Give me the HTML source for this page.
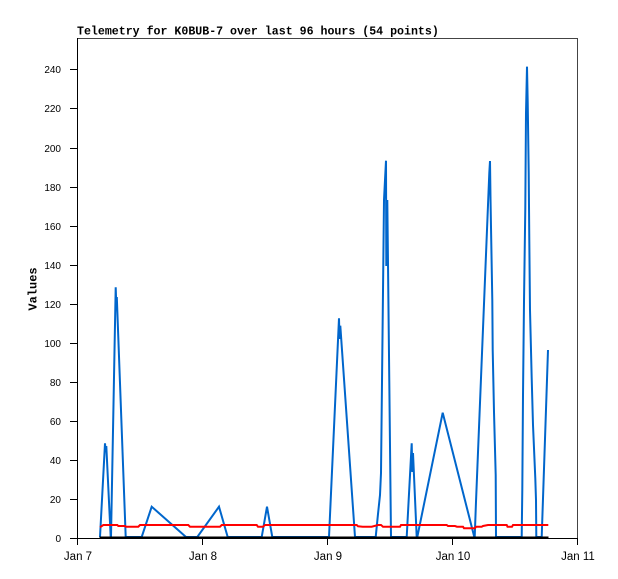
<!DOCTYPE html>
<html><head><meta charset="utf-8"><style>
html,body{margin:0;padding:0;background:#fff;}
svg{display:block;}
text{fill:#000;}
.t{font-family:"Liberation Sans",sans-serif;font-size:10px;}
.x{font-family:"Liberation Sans",sans-serif;font-size:11.5px;}
</style></head><body>
<svg width="618" height="579" viewBox="0 0 618 579" xmlns="http://www.w3.org/2000/svg">
<rect x="0" y="0" width="618" height="579" fill="#fff"/>
<text x="77" y="34.5" font-family="Liberation Mono, monospace" font-weight="bold" font-size="11.6px">Telemetry for K0BUB-7 over last 96 hours (54 points)</text>
<!-- frame -->
<line x1="77" y1="38.5" x2="578" y2="38.5" stroke="#444" stroke-width="1"/>
<line x1="577.5" y1="38" x2="577.5" y2="538" stroke="#444" stroke-width="1"/>
<line x1="77.5" y1="38" x2="77.5" y2="545" stroke="#000" stroke-width="1"/>
<line x1="70" y1="538.5" x2="578" y2="538.5" stroke="#000" stroke-width="1"/>
<!-- ticks -->
<g stroke="#000" stroke-width="1">
<line x1="70" x2="77" y1="499.5" y2="499.5"/>
<line x1="70" x2="77" y1="460.5" y2="460.5"/>
<line x1="70" x2="77" y1="421.5" y2="421.5"/>
<line x1="70" x2="77" y1="382.5" y2="382.5"/>
<line x1="70" x2="77" y1="343.5" y2="343.5"/>
<line x1="70" x2="77" y1="304.5" y2="304.5"/>
<line x1="70" x2="77" y1="265.5" y2="265.5"/>
<line x1="70" x2="77" y1="226.5" y2="226.5"/>
<line x1="70" x2="77" y1="187.5" y2="187.5"/>
<line x1="70" x2="77" y1="148.5" y2="148.5"/>
<line x1="70" x2="77" y1="108.5" y2="108.5"/>
<line x1="70" x2="77" y1="69.5" y2="69.5"/>
<line x1="202.5" x2="202.5" y1="538" y2="545"/>
<line x1="327.5" x2="327.5" y1="538" y2="545"/>
<line x1="452.5" x2="452.5" y1="538" y2="545"/>
<line x1="577.5" x2="577.5" y1="538" y2="545"/>
</g>
<g class="t" text-anchor="end">
<text x="61" y="542">0</text>
<text x="61" y="503">20</text>
<text x="61" y="464">40</text>
<text x="61" y="425">60</text>
<text x="61" y="386">80</text>
<text x="61" y="347">100</text>
<text x="61" y="308">120</text>
<text x="61" y="269">140</text>
<text x="61" y="230">160</text>
<text x="61" y="191">180</text>
<text x="61" y="152">200</text>
<text x="61" y="112">220</text>
<text x="61" y="73">240</text>
</g>
<g class="x" text-anchor="middle">
<text x="78" y="560">Jan 7</text>
<text x="203" y="560">Jan 8</text>
<text x="328" y="560">Jan 9</text>
<text x="453" y="560">Jan 10</text>
<text x="578" y="560">Jan 11</text>
</g>
<text transform="translate(36.5,289) rotate(-90)" text-anchor="middle" font-family="Liberation Mono, monospace" font-weight="bold" font-size="12px">Values</text>
<!-- blue series -->
<polyline fill="none" stroke="#0066cc" stroke-width="2" stroke-linejoin="miter" points="
100,537 105,443.3 105.7,452 106.3,446 110.7,537 111,537 115.7,287.3 116.3,305 116.8,297 125.7,537
141.7,537 151.7,506.7 186,537
197.3,537 219,506.7 227.7,537
261.7,537 267,506.7 272.3,537
329,537 339,318.3 339.5,339 340.3,325.7 355,537
375.7,537 378,514 380,495 381,473 384,200 385,180 386,160.7 386.3,266 387.3,200 391,537
406.7,537 411.7,443.3 412.3,472 413,453 416.7,537
417.3,537 442.7,412.7 474.3,537
474.7,537 476,501.7 488,205 489.3,173 490,161 490.5,198 491,227 492.3,300 492.7,350 494,412 495.7,475 496,537
521.7,537 522.3,490 523,395 524,301.7 525.3,208 526,113 527,66.7 527.7,101.7 528.7,171.7 529.3,240 530,310 531.7,378.3 533,425 535.3,478.3 536,500 536.3,537
541.7,537 548,350"/>
<!-- red series -->
<polyline fill="none" stroke="#ff0000" stroke-width="2" points="
100,527.3 103.3,525 117.3,525 118.3,526 125,526 126,526.7 138.3,526.7 140,525 188.3,525 190,526.7 220,526.7 221.7,525 256.7,525 258,526.7 263,526.7 265,525 356.7,525 358,526.3 362.7,526.7 371.7,526.7 378,525 381,525 383,526.7 400,526.7 401,525 446.7,525 448,526 455,526 457,526.7 463,526.7 464,528.3 475,528.3 476,526.7 481.7,526.7 483,526 488,525 506.7,525 507.5,526.7 512,526.7 513,525 548.3,525"/>
<!-- black zero series -->
<line x1="99.5" y1="537.5" x2="548.5" y2="537.5" stroke="#000" stroke-width="2"/>
</svg>
</body></html>
